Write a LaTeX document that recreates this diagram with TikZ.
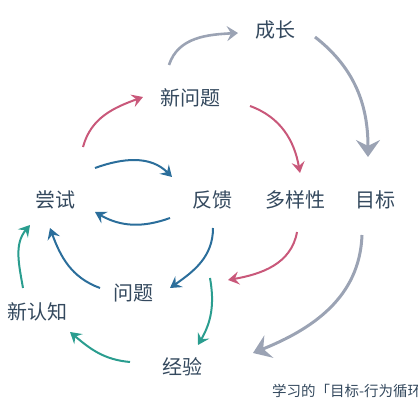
\documentclass[tikz,border=0pt]{standalone}
\usepackage{fontspec}
\setmainfont{Noto Sans CJK SC}
\usetikzlibrary{arrows.meta}
\definecolor{txt}{HTML}{34495E}
\definecolor{greyarr}{HTML}{9BA3B4}
\definecolor{redarr}{HTML}{C9587A}
\definecolor{bluearr}{HTML}{2B6E9B}
\definecolor{tealarr}{HTML}{2A9D8F}
\begin{document}
\begin{tikzpicture}[x=1pt,y=1pt,
    word/.style={text=txt,inner sep=0pt,font=\fontsize{20}{24}\selectfont},
    thin/.style={line width=2pt,-{Stealth[length=11pt,width=13pt,inset=4pt]}},
    grey/.style={greyarr,line width=2.6pt,-{Stealth[length=11pt,width=15pt,inset=4pt]}},
    greybig/.style={greyarr,line width=3pt,-{Stealth[length=17pt,width=24pt,inset=6pt]}}]
    \useasboundingbox (0,0) rectangle (417,417);
    % words
    \node[word] (cz) at (275,387) {成长};
    \node[word] (xwt) at (190,319) {新问题};
    \node[word] (cs) at (55,217) {尝试};
    \node[word] (fk) at (212,217) {反馈};
    \node[word] (dyx) at (295,217) {多样性};
    \node[word] (mb) at (375,217) {目标};
    \node[word] (wt) at (133,124) {问题};
    \node[word] (xrz) at (37,105) {新认知};
    \node[word] (jy) at (182,50) {经验};
    \node[text=txt,anchor=west,inner sep=0pt,font=\fontsize{14.5}{17}\selectfont] (cap) at (272,26) {学习的「目标-行为循环};
    % grey
    \draw[grey] ([shift={(-21,33)}]xwt.center) to[out=72,in=183] ([shift={(-37,-3)}]cz.center);
    \draw[greybig] ([shift={(40,-7)}]cz.center) to[out=-38,in=90] ([shift={(-7,43)}]mb.center);
    \draw[greybig] ([shift={(-13,-35)}]mb.center) to[out=-92,in=22] ([shift={(71,14)}]jy.center);
    % red
    \draw[thin,redarr] ([shift={(28,53)}]cs.center) to[out=75,in=200] ([shift={(-47,1)}]xwt.center);
    \draw[thin,redarr] ([shift={(60,-8)}]xwt.center) to[out=-20,in=100] ([shift={(5,27)}]dyx.center);
    \draw[thin,redarr] ([shift={(2,-32)}]dyx.center) to[out=-100,in=10] ([shift={(95,13)}]wt.center);
    % blue
    \draw[thin,bluearr] ([shift={(40,32)}]cs.center) to[out=20,in=135] ([shift={(-40,23)}]fk.center);
    \draw[thin,bluearr] ([shift={(-42,-18)}]fk.center) to[out=200,in=-30] ([shift={(40,-12)}]cs.center);
    \draw[thin,bluearr] ([shift={(1,-28)}]fk.center) to[out=-90,in=35] ([shift={(37,5)}]wt.center);
    \draw[thin,bluearr] ([shift={(-33,5)}]wt.center) to[out=160,in=-70] ([shift={(-5,-28)}]cs.center);
    % teal
    \draw[thin,tealarr] ([shift={(-14,24)}]xrz.center) to[out=100,in=230] ([shift={(-25,-25)}]cs.center);
    \draw[thin,tealarr] ([shift={(28,89)}]jy.center) to[out=-80,in=60] ([shift={(16,22)}]jy.center);
    \draw[thin,tealarr] ([shift={(-52,5)}]jy.center) to[out=175,in=-40] ([shift={(33,-20)}]xrz.center);
\end{tikzpicture}
\end{document}
